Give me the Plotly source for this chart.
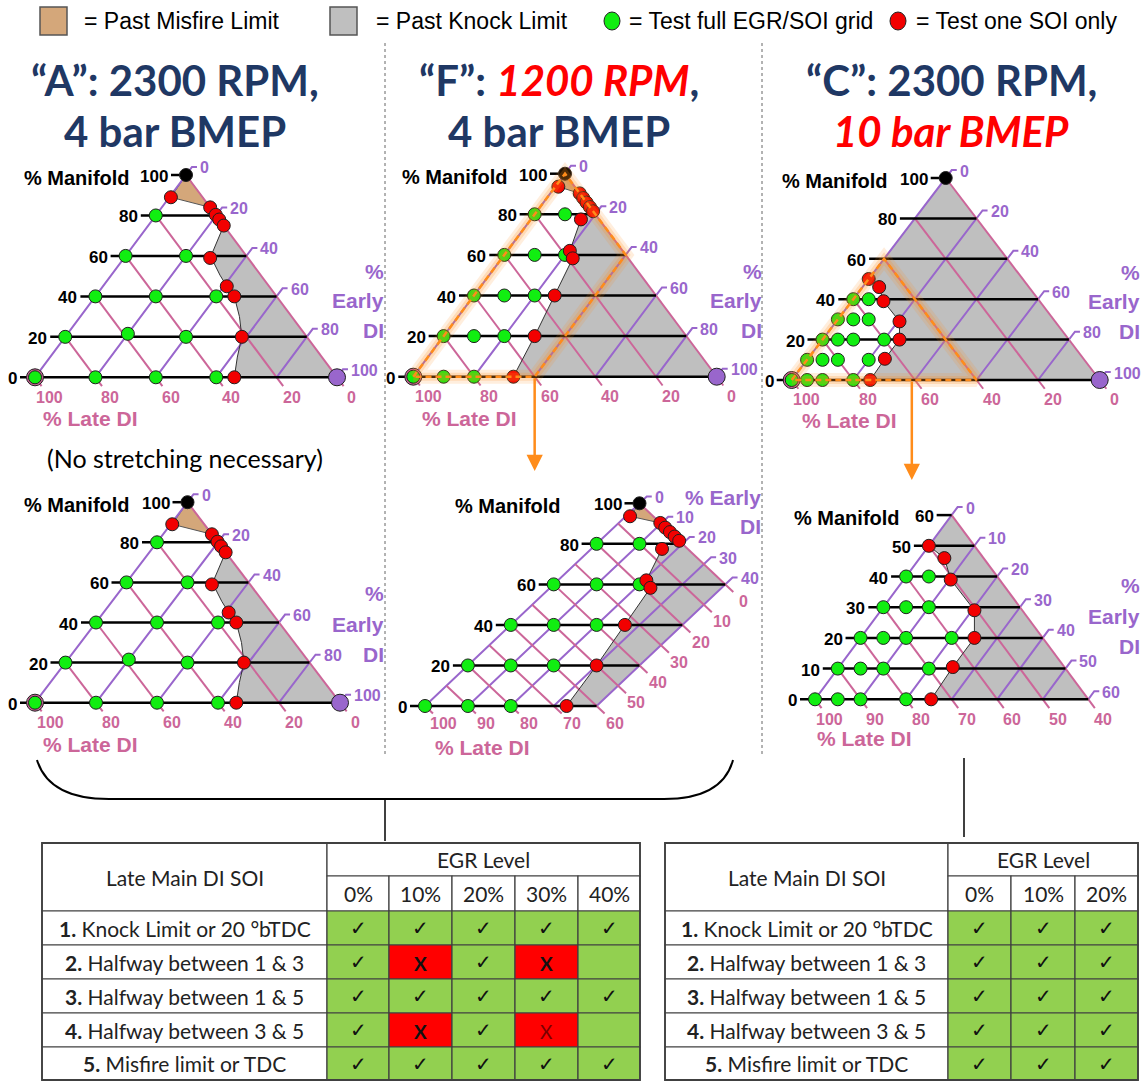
import numpy as np
import plotly.graph_objects as go

W, H = 1144, 1088
ARIAL = "Liberation Sans, Arial, sans-serif"
CAL = "Lato, Calibri, sans-serif"

NAVY = "#1F3864"
PURPLE = "#9966CC"
PINK = "#CC6699"
KNOCK_FILL = "#BFBFBF"
MISFIRE_FILL = "#D4A77A"
GREEN = "#11EE11"
RED = "#F20000"
ORANGE = "#FF8C1A"
CELL_GREEN = "#92D050"
CELL_RED = "#FF0000"

# ---------------------------------------------------------------
# Test points, given as (% manifold, % early DI); % late DI = rest
# ---------------------------------------------------------------
# Case "A": 2300 RPM, 4 bar BMEP
A_green_M = [80, 60, 60, 40, 40, 40, 20, 21.5, 20, 0, 0, 0, 0]
A_green_E = [0, 0, 20, 0, 20, 40, 0, 20, 40, 0, 20, 40, 60]
A_red_M = [89, 84, 80.3, 78, 75, 59, 45, 40, 20, 0]
A_red_E = [0.5, 16, 19.7, 22, 25, 28.5, 41, 46, 58.5, 66]
A_knock_M = [75, 70.5, 64, 59, 56.5, 50.5, 45, 40, 30, 20, 10, 0]
A_knock_E = [25, 26, 27.4, 28.5, 31, 36, 41, 46, 52.7, 58.5, 62, 66]
A_knock_head_M = []
A_knock_head_E = []
A_misfire_M = [100, 89, 84]
A_misfire_E = [0, 0.5, 16]

# Case "F": 1200 RPM, 4 bar BMEP
F_green_M = [80, 80, 60, 60, 60, 40, 40, 40, 20, 20, 20, 0, 0, 0]
F_green_E = [0, 10, 0, 10, 20, 0, 10, 20, 0, 10, 20, 0, 10, 20]
F_red_M = [93.6, 90.3, 88, 85.8, 83.6, 81.5, 77.5, 62, 58.3, 40, 20, 0]
F_red_E = [1, 9.7, 12, 14.2, 16.4, 18.5, 16.5, 20.6, 23.4, 26.6, 30, 33]
F_knock_M = [77.5, 62, 58.3, 40, 20, 0]
F_knock_E = [16.5, 20.6, 23.4, 26.6, 30, 33]
F_knock_head_M = [81.5]
F_knock_head_E = [18.5]
F_misfire_M = [100, 93.6, 90.3]
F_misfire_E = [0, 1, 9.7]

# Case "C": 2300 RPM, 10 bar BMEP
C_green_M = [0, 0, 0, 0, 10, 10, 10, 10, 20, 20, 20, 20, 30, 30, 30, 40, 40]
C_green_E = [0, 5, 10, 20, 0, 5, 10, 20, 0, 5, 10, 20, 0, 5, 10, 0, 5]
C_red_M = [0, 10.5, 20, 29, 39, 46, 50]
C_red_E = [25.5, 25, 25, 20.5, 10.3, 5.4, 0]
C_knock_M = [50, 46, 39, 29, 20, 10.5, 0]
C_knock_E = [0, 5.4, 10.3, 20.5, 25, 25, 25.5]
C_knock_head_M = [100]
C_knock_head_E = [0]
C_misfire_M = []
C_misfire_E = []

# Zoomed-in windows (outlined regions)
F_window_M = [0, 100, 60, 0]
F_window_E = [0, 0, 40, 40]
C_window_M = [0, 60, 0]
C_window_E = [0, 0, 60]

cases = {
    "A": dict(gM=A_green_M, gE=A_green_E, rM=A_red_M, rE=A_red_E,
              kM=A_knock_M, kE=A_knock_E, hM=A_knock_head_M, hE=A_knock_head_E,
              mM=A_misfire_M, mE=A_misfire_E),
    "F": dict(gM=F_green_M, gE=F_green_E, rM=F_red_M, rE=F_red_E,
              kM=F_knock_M, kE=F_knock_E, hM=F_knock_head_M, hE=F_knock_head_E,
              mM=F_misfire_M, mE=F_misfire_E),
    "C": dict(gM=C_green_M, gE=C_green_E, rM=C_red_M, rE=C_red_E,
              kM=C_knock_M, kE=C_knock_E, hM=C_knock_head_M, hE=C_knock_head_E,
              mM=C_misfire_M, mE=C_misfire_E),
}

# Table contents
SOI_NUM = ["1.", "2.", "3.", "4.", "5."]
SOI_ROWS = ["Knock Limit or 20 °bTDC", "Halfway between 1 & 3", "Halfway between 1 & 5",
            "Halfway between 3 & 5", "Misfire limit or TDC"]
EGR_LEFT = ["0%", "10%", "20%", "30%", "40%"]
EGR_RIGHT = ["0%", "10%", "20%"]
STATUS_LEFT = [
    ["ok", "ok", "ok", "ok", "ok"],
    ["ok", "x", "ok", "x", ""],
    ["ok", "ok", "ok", "ok", "ok"],
    ["ok", "x", "ok", "xr", ""],
    ["ok", "ok", "ok", "ok", "ok"],
]
STATUS_RIGHT = [["ok", "ok", "ok"] for _ in range(5)]

# ---------------------------------------------------------------
# Panel geometry: pixel position of (M=0, E=0), px per % along E,
# px per % of manifold vertically, and the visible window.
# ---------------------------------------------------------------
panels = [
    dict(case="A", x0=35.0, y0=377.3, s=3.02, h=2.023, Emax=100, Lmin=0, Ms=20, Es=20, Ls=20,
         corners=True, man_x=132, early=(386, [271, 300, 330], ["%", "Early", "DI"]), late=(41, 418)),
    dict(case="A", x0=35.0, y0=702.7, s=3.05, h=2.005, Emax=100, Lmin=0, Ms=20, Es=20, Ls=20,
         corners=True, man_x=132, early=(386, [593, 624, 654], ["%", "Early", "DI"]), late=(41, 744)),
    dict(case="F", x0=413.3, y0=376.7, s=3.034, h=2.03, Emax=100, Lmin=0, Ms=20, Es=20, Ls=20,
         corners=True, man_x=510, early=(764, [271, 300, 330], ["%", "Early", "DI"]), late=(420, 418),
         window=(F_window_M, F_window_E), arrow=(40, 471)),
    dict(case="F", x0=425.0, y0=706.0, s=4.29, h=2.027, Emax=40, Lmin=0, Ms=20, Es=10, Ls=10,
         corners="top", man_x=563, early=(763, [497, 526], ["% Early", "DI"]), late=(433, 747)),
    dict(case="C", x0=791.7, y0=380.0, s=3.08, h=2.02, Emax=100, Lmin=0, Ms=20, Es=20, Ls=20,
         corners=True, man_x=890, early=(1142, [272, 301, 331], ["%", "Early", "DI"]), late=(800, 420),
         window=(C_window_M, C_window_E), arrow=(39, 480)),
    dict(case="C", x0=815.0, y0=699.3, s=4.555, h=3.07, Emax=100, Lmin=40, Ms=10, Es=10, Ls=10,
         corners=False, man_x=902, early=(1142, [585, 616, 646], ["%", "Early", "DI"]), late=(815, 738)),
]

fig = go.Figure()
ann = []
shapes = []


def to_xy(p, M, E):
    M = np.asarray(M, dtype=float)
    E = np.asarray(E, dtype=float)
    return p["x0"] + p["s"] * (E + M / 2.0), p["y0"] - p["h"] * M


def unit(dx, dy):
    n = float(np.hypot(dx, dy))
    return dx / n, dy / n


def clip_poly(pts, a, b, c):
    """Keep the part of a polygon with a*M + b*E <= c."""
    out = []
    n = len(pts)
    for i in range(n):
        P, Q = pts[i], pts[(i + 1) % n]
        fp = a * P[0] + b * P[1] - c
        fq = a * Q[0] + b * Q[1] - c
        if fp <= 1e-9:
            out.append(P)
        if (fp < -1e-9 and fq > 1e-9) or (fq < -1e-9 and fp > 1e-9):
            t = fp / (fp - fq)
            out.append((P[0] + t * (Q[0] - P[0]), P[1] + t * (Q[1] - P[1])))
    return out


def clip_to_window(p, pts):
    pts = clip_poly(pts, 0, 1, p["Emax"])
    pts = clip_poly(pts, 1, 1, 100 - p["Lmin"])
    return pts


def text(x, y, s, size, color="black", family=ARIAL, xanchor="center", yanchor="middle"):
    ann.append(dict(x=x, y=y, xref="x", yref="y", text=s, showarrow=False,
                    xanchor=xanchor, yanchor=yanchor,
                    font=dict(size=size, color=color, family=family)))


def lines_trace(xs, ys, color, width, dash=None, opacity=1.0):
    fig.add_trace(go.Scatter(x=xs, y=ys, mode="lines", opacity=opacity,
                             line=dict(color=color, width=width, dash=dash),
                             hoverinfo="skip", showlegend=False))


def poly_trace(p, pts, fill, edge, width):
    if len(pts) < 3:
        return
    M = [q[0] for q in pts] + [pts[0][0]]
    E = [q[1] for q in pts] + [pts[0][1]]
    x, y = to_xy(p, M, E)
    fig.add_trace(go.Scatter(x=x, y=y, mode="lines", fill="toself", fillcolor=fill,
                             line=dict(color=edge, width=width), hoverinfo="skip",
                             showlegend=False))


def dots(p, M, E, color, size=13):
    if not M:
        return
    x, y = to_xy(p, M, E)
    fig.add_trace(go.Scatter(x=x, y=y, mode="markers", hoverinfo="skip", showlegend=False,
                             marker=dict(size=size, color=color, line=dict(color="#202020", width=1))))


for p in panels:
    d = cases[p["case"]]
    Mtop = 100 - p["Lmin"]
    Etop = min(p["Emax"], Mtop)

    # --- shaded limit regions ---
    head = list(zip(d["hM"], d["hE"]))
    knock = head + list(zip(d["kM"], d["kE"])) + [(0, 100)]
    poly_trace(p, clip_to_window(p, knock), KNOCK_FILL, "rgba(0,0,0,0)", 0)
    if d["mM"]:
        mis = list(zip(d["mM"], d["mE"]))
        poly_trace(p, clip_to_window(p, mis), MISFIRE_FILL, "#555555", 1)

    # --- grid: constant manifold (black) ---
    bx, by = [], []
    for m in range(0, Mtop + 1, p["Ms"]):
        e_hi = min(p["Emax"], Mtop - m)
        x, y = to_xy(p, [m, m], [0, e_hi])
        bx += [x[0] - 15, x[1], None]
        by += [y[0], y[1], None]
        text(x[0] - 16, y[0] + 1.5, f"<b>{m}</b>", 17, "black", xanchor="right")

    # --- grid: constant early DI (purple) ---
    ux, uy = unit(0.5 * p["s"], -p["h"])
    px_, py_ = [], []
    for e in range(0, Etop + 1, p["Es"]):
        m_hi = Mtop - e
        x, y = to_xy(p, [0, m_hi], [e, e])
        sx, sy = x[1] + ux * 10, y[1] + uy * 10
        px_ += [x[0], x[1], sx, sx + 5, None]
        py_ += [y[0], y[1], sy, sy, None]
        text(sx + 6, sy + 1, f"<b>{e}</b>", 16, PURPLE, xanchor="left")

    # --- grid: constant late DI (pink) ---
    dx, dy = unit(0.5 * p["s"], p["h"])
    kx, ky = [], []
    for l in range(p["Lmin"], 101, p["Ls"]):
        e_hi = min(p["Emax"], 100 - l)
        x, y = to_xy(p, [100 - l, 100 - l - e_hi], [0, e_hi])
        kx += [x[0], x[1] + dx * 11, None]
        ky += [y[0], y[1] + dy * 11, None]
        text(x[1] + dx * 25, y[1] + dy * 25, f"<b>{l}</b>", 16, PINK)

    lines_trace(px_, py_, PURPLE, 2)
    lines_trace(kx, ky, PINK, 2)
    lines_trace(bx, by, "black", 2.5)

    # --- knock-limit boundary ---
    x, y = to_xy(p, d["kM"], d["kE"])
    lines_trace(list(x), list(y), "#333333", 1)

    # --- pure-component corners ---
    if p["corners"] is True:
        dots(p, [0], [0], PINK, 17)
        dots(p, [0], [100], PURPLE, 17)
        dots(p, [100], [0], "black", 13)
    elif p["corners"] == "top":
        dots(p, [100], [0], "black", 13)

    # --- test points ---
    dots(p, d["gM"], d["gE"], GREEN)
    dots(p, d["rM"], d["rE"], RED)

    # --- zoom window and arrow ---
    if "window" in p:
        wM, wE = p["window"]
        x, y = to_xy(p, wM + [wM[0]], wE + [wE[0]])
        lines_trace(list(x), list(y), ORANGE, 14, opacity=0.14)
        lines_trace(list(x), list(y), ORANGE, 8, opacity=0.2)
        lines_trace(list(x), list(y), ORANGE, 2.5, dash="6px,4px")
        e_arrow, tip_y = p["arrow"]
        ax_, ay_ = to_xy(p, [0], [e_arrow])
        ann.append(dict(x=float(ax_[0]), y=tip_y, ax=float(ax_[0]), ay=float(ay_[0]),
                        xref="x", yref="y", axref="x", ayref="y", text="", showarrow=True,
                        arrowhead=2, arrowsize=1.3, arrowwidth=2.5, arrowcolor=ORANGE,
                        standoff=0, startstandoff=0))

    # --- axis titles ---
    tx, ty = to_xy(p, [Mtop], [0])
    text(p["man_x"], float(ty[0]) + 3, "<b>% Manifold</b>", 20, "black", xanchor="right")
    ex, eys, elines = p["early"]
    for yy, s in zip(eys, elines):
        text(ex, yy, f"<b>{s}</b>", 21, PURPLE, xanchor="right")
    lx, ly = p["late"]
    text(lx, ly, "<b>% Late DI</b>", 21, PINK, xanchor="left")

# ---------------------------------------------------------------
# Legend
# ---------------------------------------------------------------
LEG = 23
shapes.append(dict(type="rect", x0=40, x1=67, y0=7, y1=35, xref="x", yref="y",
                   fillcolor=MISFIRE_FILL, line=dict(color="#555555", width=1.5)))
text(82, 21, "= Past Misfire Limit", LEG, "black", xanchor="left")
shapes.append(dict(type="rect", x0=330, x1=357, y0=7, y1=35, xref="x", yref="y",
                   fillcolor=KNOCK_FILL, line=dict(color="#555555", width=1.5)))
text(374, 21, "= Past Knock Limit", LEG, "black", xanchor="left")
shapes.append(dict(type="circle", x0=604, x1=620, y0=12, y1=30, xref="x", yref="y",
                   fillcolor=GREEN, line=dict(color="#202020", width=1)))
text(627, 21, "= Test full EGR/SOI grid", LEG, "black", xanchor="left")
shapes.append(dict(type="circle", x0=890, x1=906, y0=12, y1=30, xref="x", yref="y",
                   fillcolor=RED, line=dict(color="#202020", width=1)))
text(914, 21, "= Test one SOI only", LEG, "black", xanchor="left")

# ---------------------------------------------------------------
# Titles
# ---------------------------------------------------------------
RED_I = lambda s: f"<i><span style='color:#FF0000'>{s}</span></i>"
titles = [
    (175, ["<b>“A”: 2300 RPM,</b>", "<b>4 bar BMEP</b>"]),
    (559, [f"<b>“F”: {RED_I('1200 RPM')},</b>", "<b>4 bar BMEP</b>"]),
    (951, ["<b>“C”: 2300 RPM,</b>", f"<b>{RED_I('10 bar BMEP')}</b>"]),
]
for cx, (l1, l2) in titles:
    text(cx, 80, l1, 42, NAVY, family=CAL)
    text(cx, 131, l2, 42, NAVY, family=CAL)

text(185, 458, "(No stretching necessary)", 25, "black", family=CAL)

# column separators
for xs in (385, 762):
    shapes.append(dict(type="line", x0=xs, x1=xs, y0=43, y1=757, xref="x", yref="y",
                       line=dict(color="#666666", width=1, dash="dot")))

# brace joining the first two columns, stem for the third
shapes.append(dict(type="path", xref="x", yref="y",
                   path="M 37 760 C 45 786 70 799 109 799 L 664 799 C 703 799 726 786 733 760",
                   line=dict(color="black", width=2)))
shapes.append(dict(type="line", x0=385, x1=385, y0=799, y1=841, xref="x", yref="y",
                   line=dict(color="black", width=1.5)))
shapes.append(dict(type="line", x0=964, x1=964, y0=758, y1=837, xref="x", yref="y",
                   line=dict(color="black", width=1.5)))

# ---------------------------------------------------------------
# Tables
# ---------------------------------------------------------------
BORDER = dict(color="#404040", width=1.2)
TXT = "#222222"


def cell(x0, x1, y0, y1, fill="white"):
    shapes.append(dict(type="rect", x0=x0, x1=x1, y0=y0, y1=y1, xref="x", yref="y",
                       fillcolor=fill, line=BORDER, layer="below"))


def draw_table(xe, ye, egr, status):
    cell(xe[0], xe[1], ye[0], ye[2])
    text((xe[0] + xe[1]) / 2, (ye[0] + ye[2]) / 2, "Late Main DI SOI", 21, TXT, family=CAL)
    cell(xe[1], xe[-1], ye[0], ye[1])
    text((xe[1] + xe[-1]) / 2, (ye[0] + ye[1]) / 2, "EGR Level", 21, TXT, family=CAL)
    for j, lab in enumerate(egr):
        cell(xe[j + 1], xe[j + 2], ye[1], ye[2])
        text((xe[j + 1] + xe[j + 2]) / 2, (ye[1] + ye[2]) / 2, lab, 21, TXT, family=CAL)
    for i, (num, row) in enumerate(zip(SOI_NUM, SOI_ROWS)):
        r0, r1 = ye[i + 2], ye[i + 3]
        cy = (r0 + r1) / 2
        cell(xe[0], xe[1], r0, r1)
        text((xe[0] + xe[1]) / 2, cy, f"<b>{num}</b> {row}", 21, TXT, family=CAL)
        for j, st in enumerate(status[i]):
            fill = CELL_RED if st.startswith("x") else CELL_GREEN
            cell(xe[j + 1], xe[j + 2], r0, r1, fill)
            cx = (xe[j + 1] + xe[j + 2]) / 2
            if st == "ok":
                text(cx, cy, "✓", 20, "#111111", family="DejaVu Sans")
            elif st == "x":
                text(cx, cy + 1, "<b>X</b>", 19, "#111111", family=CAL)
            elif st == "xr":
                text(cx, cy + 1, "X", 19, "#7A0000", family=CAL)
    shapes.append(dict(type="rect", x0=xe[0], x1=xe[-1], y0=ye[0], y1=ye[-1], xref="x", yref="y",
                       line=dict(color="#404040", width=1.8), layer="below"))


draw_table([42, 327, 389, 452, 515, 578, 640], [843, 876, 911, 945, 979, 1013, 1047, 1080],
           EGR_LEFT, STATUS_LEFT)
draw_table([665, 948, 1011, 1075, 1138], [843, 876, 911, 945, 979, 1013, 1047, 1080],
           EGR_RIGHT, STATUS_RIGHT)

fig.update_layout(
    width=W, height=H, margin=dict(l=0, r=0, t=0, b=0),
    paper_bgcolor="white", plot_bgcolor="white",
    xaxis=dict(range=[0, W], visible=False, fixedrange=True),
    yaxis=dict(range=[H, 0], visible=False, fixedrange=True),
    annotations=ann, shapes=shapes, showlegend=False,
)
fig.write_html("out.html", config={"displayModeBar": False})
